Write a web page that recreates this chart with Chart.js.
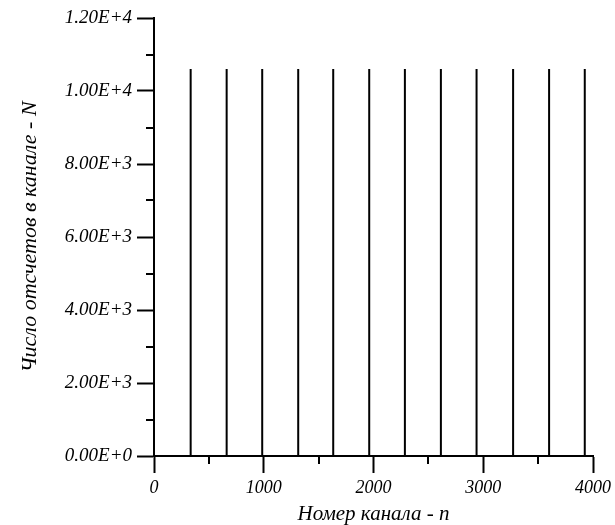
<!DOCTYPE html>
<html>
<head>
<meta charset="utf-8">
<script src="https://cdn.jsdelivr.net/npm/chart.js@4"></script>
<style>
    html, body { margin: 0; padding: 0; background: #fff; }
    #wrap { width: 615px; height: 525px; }
</style>
</head>
<body>
<div id="wrap"><canvas id="chart"></canvas></div>
<script>
// spike positions (channel number) and counts
const spikeChannels = [334, 662, 986, 1314, 1633, 1961, 2286, 2614, 2939, 3272, 3600, 3925];
const spikeCounts   = [10600, 10600, 10600, 10600, 10600, 10600, 10600, 10600, 10600, 10600, 10600, 10600];

const xMajorTicks = [0, 1000, 2000, 3000, 4000];
const xMinorTicks = [500, 1500, 2500, 3500];
const yMajorTicks = [0, 2000, 4000, 6000, 8000, 10000, 12000];
const yMinorTicks = [1000, 3000, 5000, 7000, 9000, 11000];

const xTitle = 'Номер канала - n';
const yTitle = 'Число отсчетов в канале - N';

const FONT = 'Liberation Serif';

// spikes as one polyline along the baseline
const points = [{ x: 0, y: 0 }];
spikeChannels.forEach((ch, i) => {
    points.push({ x: ch, y: 0 }, { x: ch, y: spikeCounts[i] }, { x: ch, y: 0 });
});

function sci(v) {
    if (v === 0) return '0.00E+0';
    const e = Math.floor(Math.log10(v));
    return (v / Math.pow(10, e)).toFixed(2) + 'E+' + e;
}

// shorter minor ticks, drawn from the scales
const minorTicks = {
    id: 'minorTicks',
    afterDraw(c) {
        const { ctx, scales: { x, y }, chartArea } = c;
        ctx.save();
        ctx.strokeStyle = '#000';
        ctx.lineWidth = 2;
        ctx.beginPath();
        yMinorTicks.forEach(v => {
            const py = Math.round(y.getPixelForValue(v));
            ctx.moveTo(chartArea.left - 8, py);
            ctx.lineTo(chartArea.left, py);
        });
        xMinorTicks.forEach(v => {
            const px = Math.round(x.getPixelForValue(v));
            ctx.moveTo(px, chartArea.bottom);
            ctx.lineTo(px, chartArea.bottom + 8);
        });
        ctx.stroke();
        ctx.restore();
    }
};

const axisGrid = {
    display: true,
    drawOnChartArea: false,
    drawTicks: true,
    tickLength: 17,
    tickColor: '#000',
    tickWidth: 2
};
const axisBorder = { display: true, color: '#000', width: 2 };

new Chart(document.getElementById('chart'), {
    type: 'scatter',
    data: {
        datasets: [{
            data: points,
            showLine: true,
            borderColor: '#000',
            borderWidth: 2,
            pointRadius: 0,
            tension: 0
        }]
    },
    options: {
        responsive: true,
        maintainAspectRatio: false,
        animation: false,
        layout: { padding: { top: 18, right: 22, left: 0, bottom: 0 } },
        plugins: { legend: { display: false }, tooltip: { enabled: false } },
        scales: {
            x: {
                type: 'linear',
                min: 0, max: 4000,
                afterBuildTicks: s => { s.ticks = xMajorTicks.map(v => ({ value: v })); },
                afterFit: s => { s.height = 69; },
                grid: axisGrid,
                border: axisBorder,
                ticks: {
                    color: '#000',
                    padding: 4,
                    maxRotation: 0,
                    callback: v => String(v),
                    font: { family: FONT, size: 18, style: 'italic' }
                },
                title: {
                    display: true,
                    text: xTitle,
                    color: '#000',
                    padding: { top: 0, bottom: 0 },
                    font: { family: FONT, size: 21, style: 'italic', lineHeight: 1 }
                }
            },
            y: {
                type: 'linear',
                min: 0, max: 12000,
                afterBuildTicks: s => { s.ticks = yMajorTicks.map(v => ({ value: v })); },
                afterFit: s => { s.width = 154; },
                grid: axisGrid,
                border: axisBorder,
                ticks: {
                    color: '#000',
                    padding: 5,
                    callback: v => sci(v),
                    font: { family: FONT, size: 19, style: 'italic' }
                },
                title: {
                    display: true,
                    text: yTitle,
                    color: '#000',
                    padding: { top: 19, bottom: 0 },
                    font: { family: FONT, size: 22, style: 'italic', lineHeight: 1 }
                }
            }
        }
    },
    plugins: [minorTicks]
});
</script>
</body>
</html>
